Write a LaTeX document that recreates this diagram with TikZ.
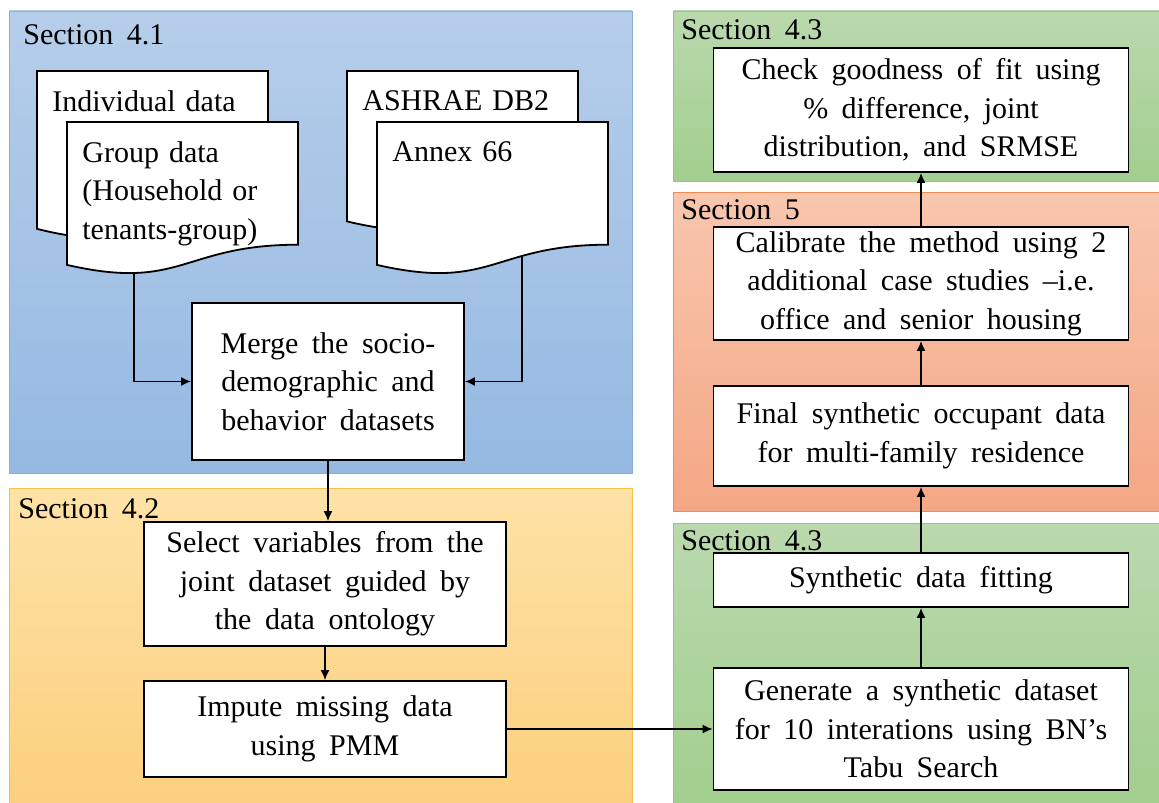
\documentclass[tikz,border=0pt]{standalone}
\usepackage{fontspec}
\setmainfont{Liberation Serif}[WordSpace=1.8]
\usetikzlibrary{arrows.meta,calc}

\pgfdeclarelayer{panel}
\pgfdeclarelayer{wire}
\pgfsetlayers{panel,wire,main}

\definecolor{blueTop}{HTML}{B6CEEA}
\definecolor{blueBot}{HTML}{95B9E2}
\definecolor{blueLine}{HTML}{8CAFD9}
\definecolor{sandTop}{HTML}{FEE2A6}
\definecolor{sandBot}{HTML}{FCD07E}
\definecolor{sandLine}{HTML}{F6C24A}
\definecolor{leafTop}{HTML}{BAD9AE}
\definecolor{leafBot}{HTML}{A2CE8E}
\definecolor{leafLine}{HTML}{9DBF8E}
\definecolor{peachTop}{HTML}{F8C6AE}
\definecolor{peachBot}{HTML}{F4A784}
\definecolor{peachLine}{HTML}{EE8D58}

% outline of a flowchart document: node, width, height (px)
\newcommand{\docoutline}[3]{%
  \filldraw[fill=white, line width=0.9pt]
    (#1.north west) -- ($(#1.north west)+(#2,0)$)
    -- ($(#1.north west)+(#2,0.802*#3)$)
    .. controls ($(#1.north west)+(0.5*#2,0.802*#3)$) and ($(#1.north west)+(0.5*#2,1.1075*#3)$)
    .. ($(#1.north west)+(0,0.934*#3)$) -- cycle;}

\begin{document}
\begin{tikzpicture}[x=0.5pt, y=-0.5pt,
  font=\fontsize{15}{19.25}\selectfont,
  procbox/.style={draw, fill=white, line width=0.9pt, align=center, inner sep=0pt, minimum width=207.5pt},
  docnode/.style={anchor=north west, align=left, text width=100.5pt, inner xsep=7.5pt, inner ysep=9.5pt},
  seclabel/.style={anchor=base west, inner sep=0pt},
  flow/.style={line width=0.8pt, -{Latex[length=5pt,width=4.5pt]}}]
  \useasboundingbox (0,0) rectangle (1159,802);

  % section panels
  \begin{pgfonlayer}{panel}
    \shade[top color=blueTop, bottom color=blueBot, draw=blueLine] (9,11) rectangle (632,473);
    \shade[top color=sandTop, bottom color=sandBot, draw=sandLine] (9,488) rectangle (632,806);
    \shade[top color=leafTop, bottom color=leafBot, draw=leafLine] (673,11) rectangle (1163,181);
    \shade[top color=peachTop, bottom color=peachBot, draw=peachLine] (673,192) rectangle (1163,511);
    \shade[top color=leafTop, bottom color=leafBot, draw=leafLine] (673,523) rectangle (1163,806);
  \end{pgfonlayer}

  \node[seclabel] (sec41) at (23,45) {Section 4.1};
  \node[seclabel] (sec42) at (18,518) {Section 4.2};
  \node[seclabel] (sec43a) at (681,40) {Section 4.3};
  \node[seclabel] (sec5) at (681,220) {Section 5};
  \node[seclabel] (sec43b) at (681,550) {Section 4.3};

  % data sources
  \node[docnode] (indiv) at (37,71) {Individual data};
  \node[docnode] (group) at (67,122) {Group data\\(Household or\\tenants-group)};
  \node[docnode] (ashrae) at (347,71) {ASHRAE DB2};
  \node[docnode] (annex) at (377,122) {Annex 66};

  % process steps
  \node[procbox, minimum width=136pt, minimum height=78.5pt] (merge) at (328,381.5)
    {Merge the socio-\\demographic and\\behavior datasets};
  \node[procbox, minimum width=181pt, minimum height=62pt] (select) at (325,584)
    {Select variables from the\\joint dataset guided by\\the data ontology};
  \node[procbox, minimum width=181pt, minimum height=48pt] (impute) at (325,729)
    {Impute missing data\\using PMM};
  \node[procbox, minimum height=61pt] (generate) at (921,729)
    {Generate a synthetic dataset\\for 10 interations using BN’s\\Tabu Search};
  \node[procbox, minimum height=27pt] (fitting) at (921,580) {Synthetic data fitting};
  \node[procbox, minimum height=50pt] (final) at (921,436)
    {Final synthetic occupant data\\for multi-family residence};
  \node[procbox, minimum height=56.5pt] (calib) at (921,283.5)
    {Calibrate the method using 2\\additional case studies –i.e.\\office and senior housing};
  \node[procbox, minimum height=62pt] (check) at (921,110)
    {Check goodness of fit using\\\% difference, joint\\distribution, and SRMSE};

  \coordinate (group-foot) at ($(group.north west)+(67,150)$);
  \coordinate (annex-foot) at ($(annex.north west)+(145,135)$);

  \begin{pgfonlayer}{wire}
    \draw[flow] (group-foot) |- (merge.west);
    \draw[flow] (annex-foot) |- (merge.east);
    \docoutline{indiv}{231}{169}
    \docoutline{group}{231}{153}
    \docoutline{ashrae}{231}{161}
    \docoutline{annex}{231}{153}
  \end{pgfonlayer}

  \draw[flow] (merge.south) -- (merge.south |- select.north);
  \draw[flow] (select.south) -- (impute.north);
  \draw[flow] (impute.east |- generate.west) -- (generate.west);
  \draw[flow] (generate.north) -- (fitting.south);
  \draw[flow] (fitting.north) -- (final.south);
  \draw[flow] (final.north) -- (calib.south);
  \draw[flow] (calib.north) -- (check.south);
\end{tikzpicture}
\end{document}
